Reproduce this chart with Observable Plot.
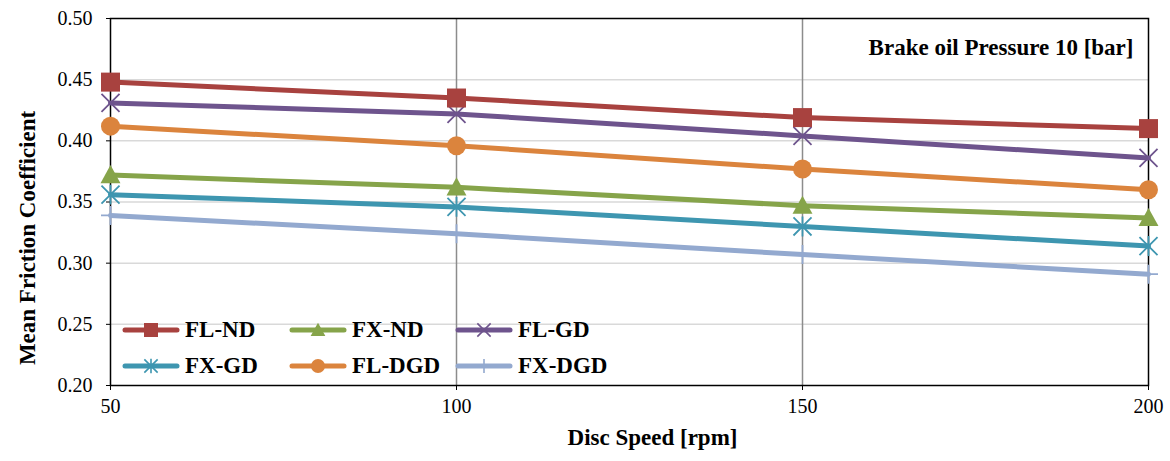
<!DOCTYPE html>
<html><head><meta charset="utf-8">
<script src="https://cdn.jsdelivr.net/npm/d3@7"></script>
<script src="https://cdn.jsdelivr.net/npm/@observablehq/plot@0.6"></script>
<style>
body{margin:0;background:#fff}
#wrap{position:relative;width:1170px;height:461px;font-family:"Liberation Serif","Times New Roman",serif}
#wrap svg text{font-family:"Liberation Serif","Times New Roman",serif}
#legend{position:absolute;left:0;top:0;width:1170px;height:461px;pointer-events:none}
.li{position:absolute;display:flex;align-items:center;font-weight:bold;font-size:23px;color:#000;font-family:"Liberation Serif","Times New Roman",serif}
.li svg{margin-right:3px}
</style>
</head><body><div id="wrap"></div>
<script>
// ---- data ----
const speeds = [50, 100, 150, 200];
const seriesNames = ["FL-ND", "FX-ND", "FL-GD", "FX-GD", "FL-DGD", "FX-DGD"];
const FL_ND  = [0.448, 0.435, 0.419, 0.410];
const FX_ND  = [0.372, 0.362, 0.347, 0.337];
const FL_GD  = [0.431, 0.422, 0.404, 0.386];
const FX_GD  = [0.356, 0.346, 0.330, 0.314];
const FL_DGD = [0.412, 0.396, 0.377, 0.360];
const FX_DGD = [0.339, 0.324, 0.307, 0.291];
const yTicks = [0.20, 0.25, 0.30, 0.35, 0.40, 0.45, 0.50];
const xTicks = [50, 100, 150, 200];
const annotation = ["Brake oil Pressure 10 [bar]"];
const xTitle = ["Disc Speed [rpm]"];
const yTitle = ["Mean Friction Coefficient"];

// ---- styles ----
const FONT = '"Liberation Serif","Times New Roman",serif';
const colors = {"FL-ND":"#A8423F","FX-ND":"#86A44A","FL-GD":"#6E548D","FX-GD":"#3E96B0","FL-DGD":"#DB843D","FX-DGD":"#93A9CF"};
const rad = s => Math.sqrt(s / Math.PI);
const symbols = {
  square: {draw(c, s){const r = rad(s); c.rect(-r, -r, 2*r, 2*r);}},
  circle: {draw(c, s){const r = rad(s); c.moveTo(r, 0); c.arc(0, 0, r, 0, 2*Math.PI);}},
  triangle: {draw(c, s){const r = rad(s); c.moveTo(0, -r*1.05); c.lineTo(r*1.05, r*0.85); c.lineTo(-r*1.05, r*0.85); c.closePath();}},
  times: {draw(c, s){const r = rad(s)*0.95; c.moveTo(-r,-r); c.lineTo(r,r); c.moveTo(-r,r); c.lineTo(r,-r);}},
  asterisk: {draw(c, s){const r = rad(s)*0.95; c.moveTo(-r,-r); c.lineTo(r,r); c.moveTo(-r,r); c.lineTo(r,-r); c.moveTo(0,-r*1.1); c.lineTo(0,r*1.1);}},
  plus: {draw(c, s){const r = rad(s); c.moveTo(0,-r); c.lineTo(0,r); c.moveTo(-r,0); c.lineTo(r,0);}}
};
const symbolFor = {"FL-ND":"square","FX-ND":"triangle","FL-GD":"times","FX-GD":"asterisk","FL-DGD":"circle","FX-DGD":"plus"};
const filled = {square:true, circle:true, triangle:true};

const values = {"FL-ND":FL_ND,"FX-ND":FX_ND,"FL-GD":FL_GD,"FX-GD":FX_GD,"FL-DGD":FL_DGD,"FX-DGD":FX_DGD};
const drawOrder = ["FX-DGD","FX-GD","FX-ND","FL-DGD","FL-GD","FL-ND"];

const marks = [
  Plot.ruleY(yTicks.filter(v => v > 0.2 && v < 0.5), {stroke:"#d9d9d9", strokeWidth:1.5}),
  Plot.ruleX(xTicks.filter(v => v > 50 && v < 200), {stroke:"#8c8c8c", strokeWidth:1.5}),
  Plot.frame({stroke:"#000", strokeWidth:1.5}),
  Plot.axisX({ticks: xTicks, tickSize: 5, tickPadding: 8, fontSize: 20, fontFamily: FONT, label: null, tickFormat: d => String(d)}),
  Plot.axisY({ticks: yTicks, tickSize: 4, tickPadding: 14, fontSize: 20, fontFamily: FONT, label: null, tickFormat: d3.format(".2f")}),
  Plot.text(xTitle, {frameAnchor:"bottom", dx: 23, dy: 59, fontSize: 23, fontWeight:"bold", fontFamily: FONT, text: d => d, textAnchor:"middle"}),
  Plot.text(yTitle, {frameAnchor:"left", dx: -83, dy: 36, rotate: -90, fontSize: 23, fontWeight:"bold", fontFamily: FONT, text: d => d, textAnchor:"middle"}),
  Plot.text(annotation, {frameAnchor:"top-right", dx: -15, dy: 20, fontSize: 23, fontWeight:"bold", fontFamily: FONT, text: d => d, textAnchor:"end"})
];
for (const name of drawOrder) {
  const data = speeds.map((s, i) => ({speed: s, value: values[name][i]}));
  marks.push(Plot.line(data, {x:"speed", y:"value", stroke: colors[name], strokeWidth: 5, strokeLinecap:"round"}));
}
for (const name of drawOrder) {
  const data = speeds.map((s, i) => ({speed: s, value: values[name][i]}));
  const sy = symbolFor[name];
  const f = filled[sy];
  marks.push(Plot.dot(data, {x:"speed", y:"value", symbol: symbols[sy], r: 9.5,
    fill: f ? colors[name] : "none", stroke: colors[name], strokeWidth: f ? 0 : 1.8}));
}

const chart = Plot.plot({
  width: 1170, height: 461,
  marginLeft: 110, marginRight: 22, marginTop: 18, marginBottom: 76,
  style: {fontFamily: FONT, color:"#000", background:"#fff", overflow:"visible"},
  x: {domain: [50, 200]},
  y: {domain: [0.2, 0.5]},
  marks
});
const wrap = document.getElementById("wrap");
wrap.appendChild(chart);

// legend (HTML overlay)
const legend = document.createElement("div");
legend.id = "legend";
wrap.appendChild(legend);
const legendPos = [[120,330],[287,330],[453,330],[120,366],[287,366],[453,366]];
seriesNames.forEach((name, i) => {
  const [lx, ly] = legendPos[i];
  const item = document.createElement("div");
  item.className = "li";
  item.style.left = lx + "px";
  item.style.top = (ly - 14) + "px";
  item.style.height = "28px";
  const sy = symbolFor[name];
  const f = filled[sy];
  const path = d3.symbol(symbols[sy], Math.PI * 7 * 7)();
  item.innerHTML = `<svg width="62" height="20" viewBox="0 0 62 20"><line x1="5" y1="10" x2="57" y2="10" stroke="${colors[name]}" stroke-width="5" stroke-linecap="round"/><path transform="translate(31,10)" d="${path}" fill="${f ? colors[name] : "none"}" stroke="${colors[name]}" stroke-width="${f ? 0 : 1.6}"/></svg><span>${name}</span>`;
  legend.appendChild(item);
});
</script>
</body></html>
